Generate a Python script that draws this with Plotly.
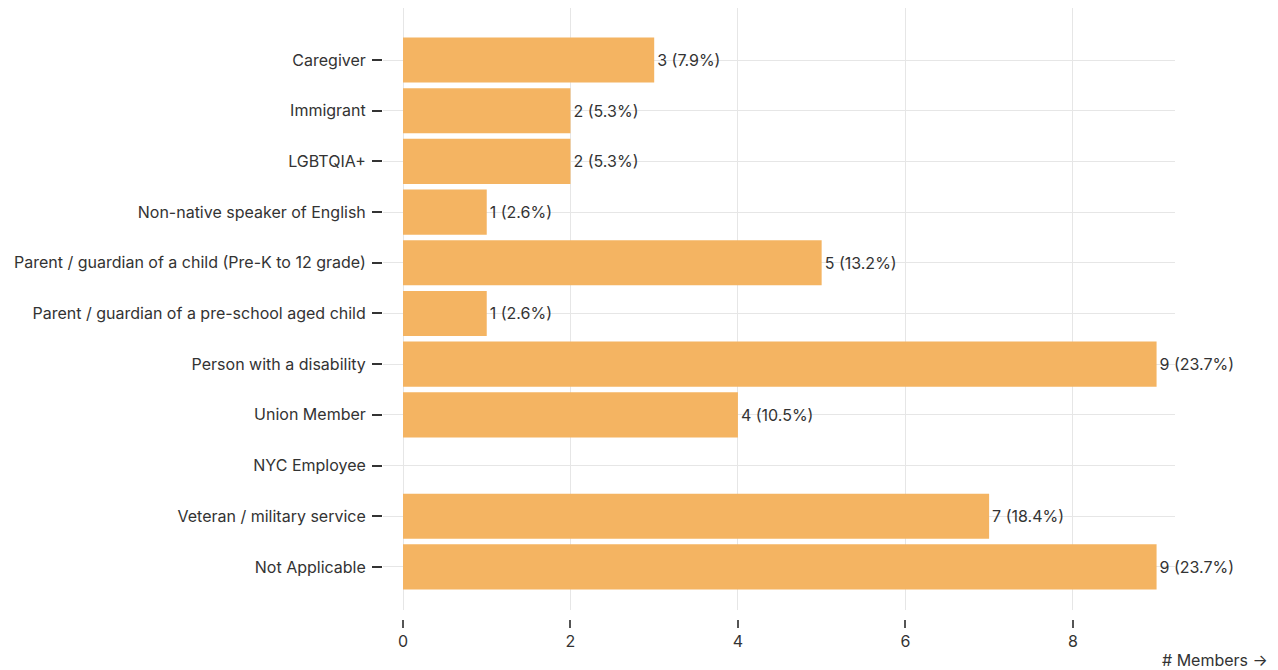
import plotly.graph_objects as go

categories = [
    "Caregiver",
    "Immigrant",
    "LGBTQIA+",
    "Non-native speaker of English",
    "Parent / guardian of a child (Pre-K to 12 grade)",
    "Parent / guardian of a pre-school aged child",
    "Person with a disability",
    "Union Member",
    "NYC Employee",
    "Veteran / military service",
    "Not Applicable",
]
members = [3, 2, 2, 1, 5, 1, 9, 4, 0, 7, 9]
total_respondents = 38
x_ticks = [0, 2, 4, 6, 8]

labels = [f"{v} ({v / total_respondents * 100:.1f}%)" if v > 0 else "" for v in members]

FONT = "Inter"
TXT = "#333333"
GRID = "#e6e6e6"
BAR = "#F4B462"
FS = 16

fig = go.Figure()
fig.add_trace(go.Bar(
    y=categories, x=members, orientation="h",
    marker=dict(color=BAR, line=dict(width=0)),
    text=labels, textposition="outside", cliponaxis=False,
    textfont=dict(family=FONT, size=FS, color=TXT),
    hoverinfo="skip",
))
# invisible trace for the offset tick axis
fig.add_trace(go.Scatter(x=[0], y=[categories[0]], xaxis="x2", mode="markers",
                         marker=dict(opacity=0), hoverinfo="skip", showlegend=False))

fig.update_layout(
    width=1270, height=662,
    margin=dict(l=375, r=103, t=0, b=35),
    plot_bgcolor="white", paper_bgcolor="white",
    showlegend=False, bargap=0.11,
    font=dict(family=FONT, size=FS, color=TXT),
    xaxis=dict(range=[-0.239, 9.22], tickvals=x_ticks, showticklabels=False,
               showgrid=True, gridcolor=GRID, gridwidth=1, zeroline=False,
               ticks="", showline=False, fixedrange=True),
    xaxis2=dict(range=[-0.239, 9.22], tickvals=x_ticks, anchor="free", position=0.0255,
                overlaying="x", side="bottom", showgrid=False, zeroline=False,
                showline=False, ticks="outside", ticklen=8, tickwidth=1.5, tickcolor="#555",
                tickfont=dict(family=FONT, size=FS, color=TXT)),
    yaxis=dict(type="category", categoryorder="array", categoryarray=categories,
               range=[10.85, -1.026], domain=[0.0399, 1],
               showgrid=True, gridcolor=GRID, gridwidth=1, zeroline=False,
               ticks="outside", ticklen=10, tickwidth=1.5, tickcolor="#333",
               ticklabelstandoff=3,
               tickfont=dict(family=FONT, size=FS, color=TXT), showline=False),
    annotations=[dict(text="# Members \u2192", xref="paper", yref="paper",
                      x=1.12, y=-0.0399, xanchor="right", yanchor="middle",
                      showarrow=False, font=dict(family=FONT, size=FS, color=TXT))],
)

fig.write_html("out.html")
